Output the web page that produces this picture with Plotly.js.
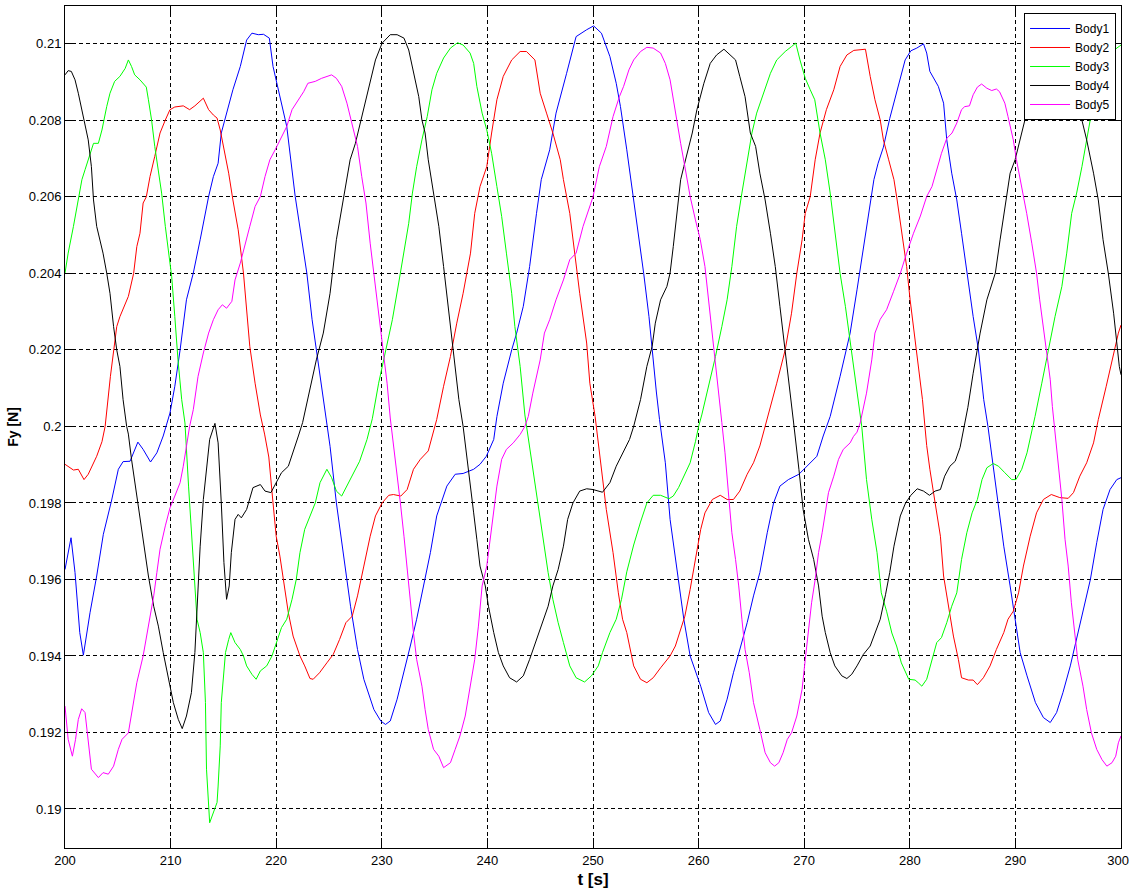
<!DOCTYPE html>
<html>
<head>
<meta charset="utf-8">
<script src="https://cdn.plot.ly/plotly-3.0.1.min.js"></script>
<style>
html,body{margin:0;padding:0;background:#fff;}
#chart{width:1129px;height:894px;}
</style>
</head>
<body>
<div id="chart"></div>
<script>
// ---------- data (time in s, Fy in N) ----------
const seriesNames = ["Body1","Body2","Body3","Body4","Body5"];
const seriesColors = ["#0000ff","#ff0000","#00ff00","#000000","#ff00ff"];

const tBody1 = [
200.0,200.57,200.95,201.4,201.74,202.37,203.0,203.63,204.4,205.05,
205.5,206.16,206.9,207.4,208.1,208.7,209.3,209.94,210.4,210.9,
211.5,212.15,212.8,213.6,214.05,214.5,214.8,215.3,215.9,216.6,
217.2,217.7,218.3,218.8,219.35,219.7,220.2,221.0,221.8,222.25,
222.9,223.4,223.8,224.5,225.1,225.7,226.1,227.04,227.7,228.3,
229.25,229.9,230.35,230.8,231.45,232.1,232.7,233.3,233.96,234.6,
235.2,235.7,236.16,236.95,237.7,238.7,239.3,239.9,240.6,240.9,
241.5,242.3,242.77,243.4,244.0,244.65,245.1,245.9,246.5,247.5,
248.4,249.4,250.06,250.8,251.6,252.2,252.6,253.2,253.85,254.3,
254.8,255.3,255.6,256.0,256.3,256.85,257.3,257.95,258.6,259.2,
260.2,260.95,261.6,262.05,262.7,263.3,263.9,264.6,265.2,265.8,
266.5,267.1,267.7,268.5,269.5,270.25,271.2,271.8,272.46,273.4,
274.35,275.0,275.6,276.1,276.6,277.0,277.5,278.1,278.8,279.56,
280.1,280.66,281.3,281.6,281.9,282.7,283.2,283.5,283.97,284.45,
284.9,285.4,286.0,286.5,287.0,287.4,287.9,288.4,288.9,289.5,
290.0,290.45,291.1,291.9,292.65,293.3,293.9,294.5,295.2,295.8,
296.4,297.1,297.7,298.3,298.96,299.6,300];
const fyBody1 = [
0.19626,0.19709,0.19618,0.19461,0.19402,0.19513,0.19609,0.19718,0.19805,0.19888,
0.19908,0.19909,0.19959,0.1994,0.19907,0.19931,0.19975,0.20035,0.20105,0.202,
0.20331,0.20401,0.20488,0.20601,0.20653,0.20688,0.20767,0.20819,0.2088,0.20941,
0.2101,0.21028,0.21024,0.21025,0.21015,0.20941,0.2088,0.20784,0.20601,0.20514,
0.20401,0.20279,0.202,0.2007,0.19948,0.198,0.1972,0.1953,0.19417,0.19339,
0.1926,0.1923,0.19221,0.1923,0.19287,0.19356,0.19426,0.19496,0.19583,0.1967,
0.19766,0.19809,0.19844,0.19875,0.19877,0.19888,0.19901,0.19922,0.19966,0.20026,
0.20113,0.202,0.20244,0.20314,0.20418,0.20557,0.20645,0.20723,0.20819,0.20923,
0.21019,0.21037,0.21047,0.21028,0.20967,0.20897,0.20836,0.20723,0.20592,0.20505,
0.204,0.20287,0.202,0.2009,0.20018,0.19905,0.19757,0.19626,0.19496,0.194,
0.19321,0.19252,0.19221,0.1923,0.19287,0.19356,0.19417,0.19487,0.19557,0.19618,
0.19722,0.198,0.19844,0.19861,0.19875,0.19896,0.19922,0.19975,0.20026,0.20131,
0.20244,0.20357,0.2047,0.20557,0.20645,0.20688,0.2073,0.20805,0.20875,0.20958,
0.20982,0.20989,0.21,0.20976,0.20928,0.20889,0.20845,0.20749,0.20662,0.20592,
0.20505,0.204,0.20287,0.202,0.2007,0.2,0.19896,0.19783,0.19687,0.19583,
0.19487,0.19409,0.19348,0.19278,0.19239,0.19226,0.19252,0.19304,0.19374,0.19443,
0.19513,0.196,0.19696,0.19783,0.19835,0.19861,0.19866];

const tBody2 = [
200.0,200.8,201.26,201.8,202.2,202.7,203.0,203.5,203.8,204.3,
204.6,204.9,205.2,206.0,206.5,206.8,207.1,207.4,207.7,208.05,
208.5,209.0,209.5,209.94,210.4,211.2,211.8,212.3,213.1,213.6,
214.05,214.4,214.7,215.0,215.5,215.9,216.4,216.9,217.2,217.5,
218.0,218.5,218.9,219.3,219.7,220.0,220.35,220.7,221.15,221.6,
222.25,222.7,223.2,223.5,224.1,224.8,225.4,226.0,226.6,227.2,
227.7,228.3,228.9,229.4,230.03,230.66,231.1,231.8,232.4,233.0,
233.65,234.4,234.9,235.2,235.85,236.5,237.1,237.7,238.4,238.8,
239.3,239.94,240.4,240.9,241.5,242.3,243.1,243.7,244.5,245.0,
245.6,246.2,246.9,247.2,247.8,248.3,248.74,249.4,249.7,250.2,
250.6,251.26,251.9,252.4,252.8,253.2,253.85,254.5,255.1,255.7,
256.4,257.3,257.8,258.3,258.7,259.2,259.7,260.2,260.6,261.3,
262.05,262.7,263.3,263.9,264.6,265.2,265.8,266.5,267.4,268.2,
268.8,269.3,269.8,270.1,270.57,271.04,271.5,272.1,272.8,273.4,
274.04,274.7,275.8,276.25,276.7,277.2,277.5,278.0,278.5,278.8,
279.25,279.7,280.03,280.35,280.8,281.2,281.6,281.9,282.4,282.9,
283.2,283.7,284.13,284.6,284.9,285.55,286.0,286.4,286.97,287.6,
288.2,288.9,289.3,289.8,290.3,290.76,291.4,292.0,292.65,293.4,
294.2,295.0,295.5,296.1,296.75,297.4,297.85,298.6,299.3,299.75,
300];
const fyBody2 = [
0.19901,0.19886,0.19888,0.19861,0.19875,0.19905,0.19922,0.1996,0.2,0.20131,
0.202,0.20261,0.20287,0.2034,0.204,0.2047,0.20505,0.20584,0.206,0.20653,
0.20706,0.20767,0.20801,0.20828,0.20835,0.20838,0.20828,0.20838,0.20858,0.20828,
0.20814,0.20806,0.20775,0.20732,0.20662,0.20592,0.20514,0.20401,0.20296,0.20209,
0.20113,0.2003,0.1998,0.1992,0.198,0.19713,0.19661,0.19591,0.19513,0.19452,
0.194,0.19374,0.19341,0.19339,0.19356,0.19382,0.19404,0.19443,0.19487,0.19504,
0.19557,0.19635,0.19713,0.19766,0.198,0.1982,0.19822,0.19818,0.19835,0.19888,
0.19914,0.19936,0.19983,0.20018,0.20105,0.20183,0.2027,0.20348,0.20453,0.20557,
0.20627,0.20679,0.20767,0.20854,0.20915,0.20958,0.2098,0.2098,0.20958,0.20871,
0.20819,0.20767,0.20697,0.20645,0.20557,0.20444,0.20348,0.20218,0.20113,0.20026,
0.19931,0.19783,0.1967,0.19565,0.19496,0.19461,0.19374,0.19339,0.1933,0.19343,
0.19369,0.194,0.19426,0.1947,0.19504,0.19574,0.19652,0.19731,0.19774,0.19809,
0.1982,0.19809,0.19809,0.19831,0.19875,0.19905,0.19949,0.20018,0.20113,0.202,
0.20296,0.204,0.20488,0.20557,0.20601,0.20697,0.20767,0.20828,0.2088,0.20941,
0.20971,0.20983,0.20986,0.20915,0.20854,0.20801,0.20749,0.20697,0.20645,0.20592,
0.20505,0.20418,0.20331,0.2026,0.20157,0.2007,0.1995,0.19888,0.198,0.19713,
0.19609,0.19522,0.19452,0.19391,0.19343,0.19337,0.19337,0.19325,0.19343,0.19374,
0.19417,0.19461,0.19496,0.19517,0.19565,0.19635,0.19713,0.19774,0.19809,0.19822,
0.19814,0.19812,0.19827,0.1987,0.19905,0.19957,0.20018,0.20105,0.20192,0.20244,
0.20265];

const tBody3 = [
200.0,200.3,200.8,201.26,201.6,201.9,202.2,202.7,203.16,203.5,
203.95,204.26,204.7,205.2,205.7,206.0,206.3,206.6,207.1,207.7,
207.9,208.2,208.5,208.84,209.15,209.5,209.8,210.1,210.4,210.7,
211.05,211.36,211.7,212.0,212.3,212.5,212.8,213.1,213.3,213.4,
213.7,214.05,214.4,214.5,214.7,214.8,215.0,215.2,215.5,215.7,
216.1,216.6,216.9,217.2,217.7,218.1,218.5,219.1,219.6,220.0,
220.5,221.0,221.5,221.9,222.25,222.7,223.2,223.7,224.15,224.8,
225.25,225.7,226.2,226.7,227.3,227.9,228.6,229.1,229.7,230.35,
231.0,231.6,232.1,232.55,232.9,233.3,233.8,234.3,234.75,235.2,
235.85,236.5,237.17,237.7,238.36,238.7,239.0,239.5,239.94,240.4,
240.9,241.35,241.8,242.3,242.6,243.1,243.55,244.3,244.8,245.3,
245.75,246.2,246.7,247.2,247.8,248.4,249.2,249.85,250.5,250.9,
251.6,252.2,252.7,253.2,253.85,254.5,255.1,255.7,256.4,257.2,
257.6,258.1,258.6,259.2,259.7,260.0,260.3,260.95,261.6,262.2,
262.7,263.15,263.6,264.1,264.6,265.05,265.5,266.15,266.8,267.4,
268.2,268.8,269.2,269.6,270.1,270.57,271.0,271.5,272.0,272.46,
272.9,273.4,273.9,274.35,274.8,275.1,275.45,275.9,276.4,276.9,
277.3,277.8,278.3,278.75,279.2,279.9,280.5,280.8,281.14,281.6,
282.1,282.55,283.0,283.5,283.97,284.45,284.9,285.4,285.9,286.4,
286.84,287.3,287.9,288.4,289.0,289.65,290.05,290.6,291.1,291.55,
291.86,292.5,293.1,293.75,294.4,294.86,295.33,295.8,296.3,296.75,
297.2,297.7,298.3,298.96,299.6,300];
const fyBody3 = [
0.20401,0.20453,0.20523,0.20592,0.20645,0.20671,0.20697,0.2074,0.2074,0.20775,
0.20836,0.20871,0.20902,0.20915,0.20936,0.20958,0.20941,0.20919,0.20906,0.20887,
0.20854,0.20801,0.20732,0.20671,0.2061,0.20523,0.20462,0.20392,0.20287,0.20174,
0.2007,0.20009,0.19844,0.19713,0.196,0.19496,0.19461,0.19409,0.19278,0.19104,
0.18964,0.1899,0.19017,0.1906,0.19165,0.19278,0.19339,0.19409,0.19443,0.19461,
0.19435,0.19417,0.194,0.19374,0.19352,0.19339,0.19361,0.19374,0.194,0.19435,
0.19474,0.19496,0.19548,0.196,0.1967,0.19731,0.19766,0.198,0.19853,0.19888,
0.19866,0.19831,0.19818,0.19844,0.19875,0.19909,0.19966,0.2002,0.20113,0.202,
0.20279,0.20375,0.20453,0.20531,0.2061,0.20679,0.20749,0.2081,0.2088,0.20923,
0.20963,0.20989,0.21003,0.20997,0.20976,0.20949,0.20889,0.20819,0.20775,0.20714,
0.20627,0.20549,0.20453,0.20348,0.20261,0.20157,0.2003,0.19888,0.19792,0.19696,
0.19618,0.19548,0.19487,0.19435,0.19374,0.19343,0.19332,0.19348,0.19374,0.19409,
0.19461,0.19496,0.19548,0.1962,0.1969,0.1975,0.198,0.1982,0.1982,0.19811,
0.19818,0.1984,0.1987,0.19905,0.1996,0.2,0.2003,0.20105,0.20183,0.20261,
0.20331,0.20418,0.20523,0.2061,0.20697,0.20767,0.20819,0.20871,0.20923,0.20958,
0.2098,0.20993,0.21002,0.20958,0.2091,0.2088,0.20854,0.20767,0.20697,0.2061,
0.20505,0.204,0.20314,0.20226,0.20139,0.2007,0.2,0.19861,0.19757,0.1967,
0.19565,0.19517,0.1946,0.19426,0.19382,0.19339,0.19337,0.1933,0.19321,0.19339,
0.19391,0.19435,0.19448,0.19487,0.1953,0.19565,0.19652,0.19722,0.19774,0.19809,
0.19861,0.19892,0.19903,0.19896,0.19879,0.19861,0.19861,0.19888,0.19931,0.19983,
0.20026,0.20113,0.202,0.20287,0.20366,0.20453,0.20557,0.2061,0.20679,0.20749,
0.20819,0.20871,0.20932,0.20976,0.20989,0.20997];

const tBody4 = [
200.0,200.3,200.6,200.95,201.26,201.58,201.9,202.2,202.5,202.7,
203.0,203.3,203.6,203.95,204.26,204.6,204.9,205.2,205.5,205.84,
206.0,206.3,206.8,207.25,207.6,207.9,208.4,208.84,209.3,209.8,
210.26,210.73,211.1,211.5,211.97,212.3,212.5,212.8,213.1,213.4,
213.7,214.2,214.5,214.8,215.05,215.3,215.55,215.75,216.1,216.4,
216.7,217.2,217.5,217.8,218.5,218.94,219.5,220.0,220.5,221.15,
221.6,222.1,222.5,223.0,223.8,224.46,225.1,225.7,226.35,227.0,
227.5,228.1,228.8,229.4,230.03,230.8,231.45,232.1,232.55,233.0,
233.5,233.8,234.1,234.4,234.9,235.4,235.85,236.3,236.8,237.3,
237.7,238.2,238.7,239.0,239.3,239.8,240.1,240.6,241.04,241.5,
242.1,242.77,243.4,244.0,244.65,245.3,245.75,246.2,246.7,247.2,
247.6,248.1,248.74,249.4,250.0,250.9,251.6,252.2,252.8,253.46,
253.85,254.5,255.1,255.6,255.9,256.4,257.0,257.3,257.6,257.95,
258.3,258.6,258.9,259.4,259.84,260.5,261.1,261.7,262.4,263.0,
263.5,263.9,264.4,264.9,265.4,265.8,266.3,266.8,267.26,267.7,
268.2,268.7,269.0,269.5,269.9,270.4,270.9,271.36,271.7,272.0,
272.46,272.9,273.56,274.04,274.5,275.0,275.6,276.25,276.7,277.2,
277.7,278.1,278.5,279.1,279.6,280.1,280.7,281.3,281.86,282.4,
282.9,283.3,283.8,284.3,284.76,285.2,285.5,286.0,286.66,287.3,
288.1,288.55,289.0,289.5,289.97,290.4,290.9,291.4,292.2,293.0,
293.8,294.6,295.4,296.1,296.75,297.4,297.85,298.3,298.8,299.3,
299.6,299.84,300];
const fyBody4 = [
0.20919,0.2093,0.20928,0.20906,0.20871,0.20828,0.20793,0.20749,0.20679,0.20592,
0.20523,0.20488,0.20453,0.20401,0.20348,0.20261,0.202,0.20157,0.2007,0.2,
0.1998,0.19914,0.19818,0.1974,0.1967,0.19609,0.1953,0.19478,0.19409,0.19339,
0.19278,0.19234,0.1921,0.19243,0.19304,0.19409,0.1953,0.19687,0.19809,0.19896,
0.19966,0.20008,0.19957,0.198,0.19644,0.19548,0.19583,0.1967,0.19757,0.1977,
0.19761,0.19783,0.19809,0.1984,0.19848,0.19831,0.19827,0.19853,0.19879,0.19896,
0.19931,0.19975,0.2001,0.2007,0.20174,0.20244,0.20348,0.20488,0.20592,0.20697,
0.2074,0.2081,0.20889,0.20958,0.21002,0.21024,0.21024,0.21015,0.20984,0.20923,
0.20862,0.20801,0.20767,0.20697,0.2061,0.20523,0.20418,0.20314,0.202,0.2007,
0.2,0.19879,0.19774,0.19705,0.19635,0.19583,0.1953,0.19461,0.19409,0.19374,
0.19343,0.19332,0.19348,0.19391,0.19443,0.19496,0.1953,0.19583,0.19626,0.19687,
0.19757,0.198,0.19831,0.19837,0.19835,0.19828,0.19853,0.19896,0.19931,0.19966,
0.2,0.2007,0.20157,0.20209,0.2027,0.20331,0.20366,0.20401,0.2047,0.20557,
0.20645,0.20679,0.20714,0.20767,0.20828,0.20897,0.20949,0.20971,0.20986,0.20971,
0.20958,0.20915,0.20862,0.20767,0.20732,0.20662,0.20592,0.20505,0.20418,0.20314,
0.202,0.20087,0.20009,0.19888,0.19783,0.19705,0.19652,0.19583,0.19504,0.19461,
0.19409,0.19374,0.19348,0.19341,0.19352,0.19374,0.19404,0.19426,0.19461,0.19496,
0.1956,0.19618,0.19687,0.19766,0.198,0.1982,0.19837,0.19831,0.1982,0.19831,
0.19835,0.1987,0.19896,0.19909,0.19945,0.2001,0.2005,0.20139,0.20244,0.20331,
0.20401,0.20488,0.20575,0.20662,0.20697,0.20749,0.20801,0.20836,0.2091,0.2096,
0.20985,0.20975,0.2091,0.20823,0.20749,0.20662,0.20592,0.20488,0.204,0.20296,
0.20209,0.20157,0.20135];

const tBody5 = [
200.0,200.3,200.7,201.0,201.26,201.58,201.9,202.2,202.5,203.16,
203.6,204.1,204.6,205.05,205.4,206.0,206.3,206.8,207.4,207.9,
208.4,208.7,209.0,209.5,209.94,210.4,210.9,211.2,211.5,211.8,
212.15,212.6,213.1,213.6,214.05,214.5,214.9,215.3,215.8,216.1,
216.6,217.05,217.5,218.0,218.5,218.94,219.4,219.9,220.36,221.0,
221.5,222.1,222.6,223.0,223.7,224.3,224.8,225.25,225.7,226.2,
226.7,227.2,227.7,228.1,228.5,228.9,229.25,229.56,229.9,230.2,
230.5,230.8,231.3,231.76,232.1,232.4,232.7,233.0,233.3,233.8,
234.1,234.4,234.9,235.4,235.85,236.5,236.95,237.4,237.9,238.4,
238.8,239.15,239.5,239.94,240.25,240.6,240.9,241.35,241.8,242.45,
243.1,243.55,243.87,244.3,245.0,245.4,245.9,246.5,247.2,247.8,
248.4,249.06,250.0,250.6,251.26,251.9,252.5,252.9,253.4,253.85,
254.5,255.1,255.7,256.4,256.85,257.3,257.6,257.95,258.3,258.7,
259.2,259.7,260.16,260.6,260.95,261.26,261.6,261.9,262.2,262.5,
262.84,263.15,263.5,263.8,264.1,264.4,264.8,265.2,265.8,266.3,
266.8,267.2,267.6,268.0,268.4,268.8,269.3,269.8,270.1,270.4,
270.7,271.04,271.36,271.7,272.0,272.3,272.8,273.25,273.7,274.35,
274.67,275.0,275.3,275.9,276.4,276.7,277.2,277.8,278.45,279.1,
279.7,280.35,281.0,281.6,282.1,282.55,283.0,283.5,284.0,284.45,
284.9,285.2,285.65,286.0,286.4,286.8,287.3,287.76,288.2,288.5,
289.0,289.3,289.8,290.1,290.6,291.07,291.55,292.0,292.3,292.65,
293.0,293.3,293.5,293.85,294.07,294.4,294.7,295.0,295.3,295.6,
295.9,296.4,296.75,297.2,297.7,298.2,298.66,299.15,299.5,299.75,
300];
const fyBody5 = [
0.19269,0.19182,0.19138,0.19182,0.19234,0.19262,0.19252,0.19182,0.19104,0.19082,
0.19095,0.19091,0.19112,0.19156,0.19182,0.19199,0.19252,0.1933,0.194,0.19478,
0.19557,0.19618,0.19679,0.1974,0.19787,0.19818,0.19853,0.19896,0.19949,0.2,
0.20044,0.20131,0.20192,0.20244,0.20279,0.20305,0.20318,0.20309,0.20327,0.20383,
0.20427,0.20479,0.20523,0.20575,0.20601,0.20653,0.20697,0.20723,0.20749,0.20784,
0.20828,0.20854,0.20875,0.20897,0.20902,0.2091,0.20915,0.20919,0.2091,0.20889,
0.20845,0.2079,0.20732,0.20653,0.20584,0.20479,0.20401,0.20331,0.20261,0.20192,
0.20113,0.20022,0.19914,0.198,0.19713,0.19626,0.19548,0.19461,0.19391,0.19321,
0.1926,0.19208,0.19156,0.19138,0.19108,0.19121,0.19156,0.19191,0.19243,0.19321,
0.19391,0.19478,0.19583,0.19635,0.19705,0.19783,0.19844,0.19914,0.1994,0.19957,
0.19979,0.2,0.20026,0.20087,0.20174,0.20244,0.20279,0.20331,0.20383,0.20436,
0.20453,0.20523,0.206,0.20679,0.20732,0.2081,0.20862,0.20889,0.20932,0.20958,
0.2098,0.20991,0.20989,0.20976,0.20949,0.20906,0.20854,0.20801,0.2074,0.20679,
0.20601,0.2054,0.20488,0.20418,0.20331,0.20244,0.20174,0.20087,0.2001,0.19931,
0.19827,0.19722,0.19652,0.19583,0.19496,0.19417,0.19356,0.19278,0.19208,0.19147,
0.19121,0.19112,0.19121,0.19147,0.19182,0.19199,0.19243,0.19313,0.19391,0.19461,
0.19539,0.196,0.1967,0.19722,0.19774,0.19827,0.1987,0.19914,0.1994,0.19957,
0.19974,0.19985,0.20009,0.20087,0.20174,0.20244,0.2028,0.20305,0.20352,0.204,
0.20453,0.20505,0.2055,0.20601,0.20627,0.20671,0.20714,0.20753,0.20767,0.20793,
0.20828,0.20836,0.20838,0.20867,0.20887,0.20895,0.20884,0.20878,0.20882,0.20875,
0.20845,0.2081,0.20749,0.20697,0.20627,0.20557,0.20479,0.20401,0.20331,0.20261,
0.20192,0.20122,0.20052,0.1996,0.19914,0.19809,0.19705,0.19635,0.19539,0.19461,
0.19391,0.19321,0.1926,0.19199,0.19156,0.19129,0.19112,0.19121,0.19138,0.19173,
0.19191];

const xTickVals = [200,210,220,230,240,250,260,270,280,290,300];
const xTickText = ["200","210","220","230","240","250","260","270","280","290","300"];
const yTickVals = [0.19,0.192,0.194,0.196,0.198,0.2,0.202,0.204,0.206,0.208,0.21];
const yTickText = ["0.19","0.192","0.194","0.196","0.198","0.2","0.202","0.204","0.206","0.208","0.21"];

// ---------- traces ----------
const times = [tBody1,tBody2,tBody3,tBody4,tBody5];
const values = [fyBody1,fyBody2,fyBody3,fyBody4,fyBody5];
const traces = seriesNames.map((name,i)=>({
  type:'scatter', mode:'lines', name:name,
  x:times[i], y:values[i],
  line:{color:seriesColors[i], width:1}
}));

const axisCommon = {
  showline:true, linecolor:'#000', linewidth:1, mirror:'ticks',
  ticks:'inside', ticklen:10, tickwidth:1, tickcolor:'#000',
  showgrid:true, gridcolor:'#000', gridwidth:1, griddash:'4px,3px',
  zeroline:false, tickmode:'array', ticklabeloverflow:'allow',
  tickfont:{family:'Liberation Sans, Arial, sans-serif', size:13, color:'#000'}
};

const layout = {
  width:1129, height:894,
  margin:{l:65, r:8, t:6, b:46, pad:0},
  paper_bgcolor:'#fff', plot_bgcolor:'#fff',
  font:{family:'Liberation Sans, Arial, sans-serif', size:13, color:'#000'},
  showlegend:true,
  xaxis:Object.assign({}, axisCommon, {
    range:[200,300], tickvals:xTickVals, ticktext:xTickText,
    title:{text:'<b>t [s]</b>', font:{size:17, color:'#000'}, standoff:6}
  }),
  yaxis:Object.assign({}, axisCommon, {
    range:[0.18898,0.21099], tickvals:yTickVals, ticktext:yTickText,
    title:{text:'<b>Fy [N]</b>', font:{size:14, color:'#000'}, standoff:6}
  }),
  legend:{
    x:0.9953, y:0.9917, xanchor:'right', yanchor:'top',
    bgcolor:'#fff', bordercolor:'#000', borderwidth:1,
    font:{family:'Liberation Sans, Arial, sans-serif', size:12, color:'#000'},
    tracegroupgap:0, itemwidth:40
  }
};

Plotly.newPlot('chart', traces, layout, {displayModeBar:false, staticPlot:true}).then(gd=>{
  // keep the last x tick label ("300") inside the page, as in the reference
  const labels = gd.querySelectorAll('.xtick text');
  labels.forEach(t=>{
    if (t.textContent.trim()==='300') {
      t.setAttribute('text-anchor','end');
      t.setAttribute('x', String(parseFloat(t.getAttribute('x')||'0') + 8));
    }
  });
});
</script>
</body>
</html>
